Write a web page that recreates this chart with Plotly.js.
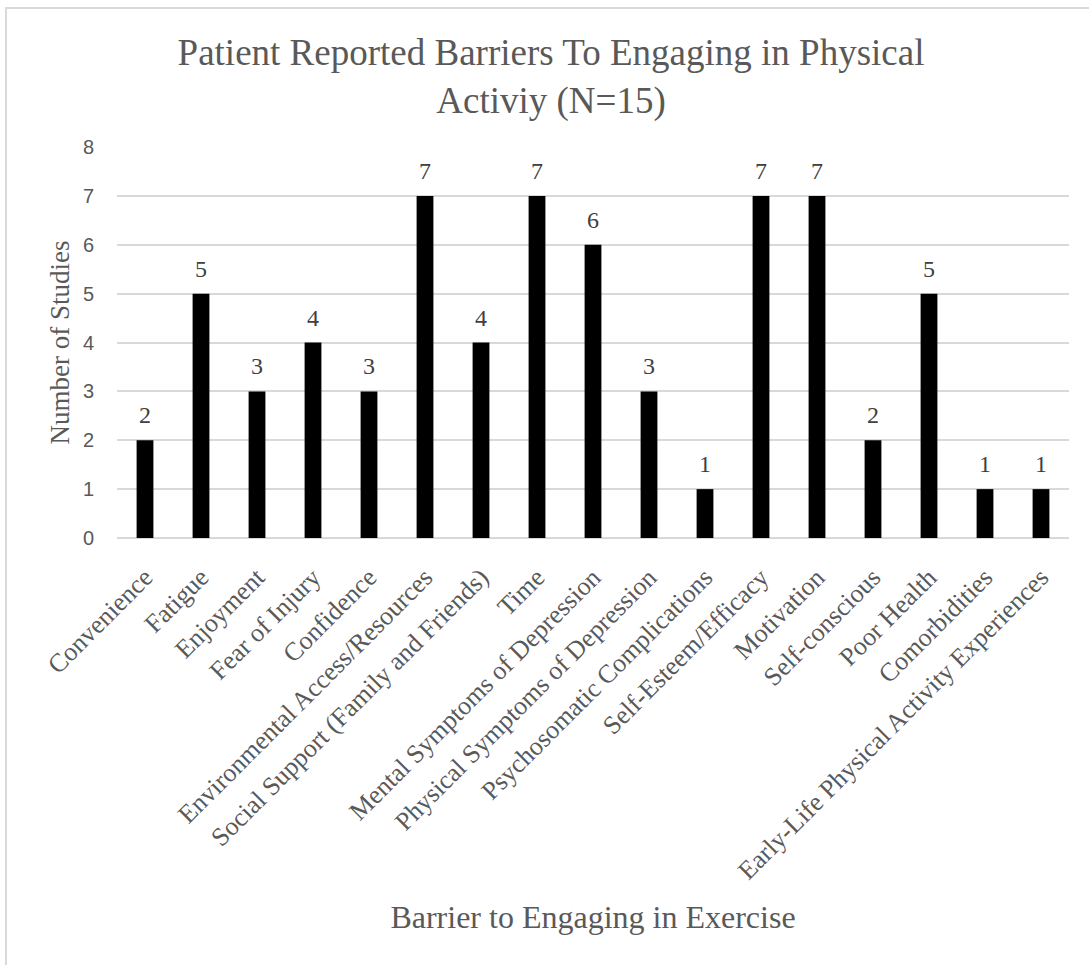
<!DOCTYPE html>
<html>
<head>
<meta charset="utf-8">
<script src="https://cdn.plot.ly/plotly-3.0.1.min.js"></script>
<style>
  html, body { margin: 0; padding: 0; background: #fff; }
  #wrap { position: relative; width: 1089px; height: 965px; overflow: hidden; }
  #chart { width: 1089px; height: 965px; }
  #frame { position: absolute; left: 5px; top: 7px; width: 1200px; height: 1100px;
           border-left: 2px solid #d9d9d9; border-top: 2px solid #d9d9d9; pointer-events: none; }
</style>
</head>
<body>
<div id="wrap">
  <div id="chart"></div>
  <div id="frame"></div>
</div>
<script>
const categories = [
  "Convenience", "Fatigue", "Enjoyment", "Fear of Injury", "Confidence",
  "Environmental Access/Resources", "Social Support (Family and Friends)", "Time",
  "Mental Symptoms of Depression", "Physical Symptoms of Depression",
  "Psychosomatic Complications", "Self-Esteem/Efficacy", "Motivation",
  "Self-conscious", "Poor Health", "Comorbidities",
  "Early-Life Physical Activity Experiences"
];
const studies = [2, 5, 3, 4, 3, 7, 4, 7, 6, 3, 1, 7, 7, 2, 5, 1, 1];
const yTicks = [0, 1, 2, 3, 4, 5, 6, 7, 8];

const serif = "Liberation Serif, Times New Roman, serif";
const sans = "Liberation Sans, Arial, sans-serif";
const grey = "#595959";

const trace = {
  type: "bar",
  x: categories,
  y: studies,
  marker: { color: "#000000" },
  hoverinfo: "x+y"
};

const labels = categories.map((c, i) => ({
  x: c, y: studies[i], xref: "x", yref: "y",
  text: String(studies[i]), showarrow: false,
  yanchor: "bottom", yshift: 10,
  font: { family: serif, size: 24, color: "#404040" }
}));

const layout = {
  width: 1089, height: 965,
  margin: { l: 117, r: 20, t: 147, b: 427 },
  paper_bgcolor: "#ffffff", plot_bgcolor: "#ffffff",
  bargap: 0.7,
  showlegend: false,
  font: { family: serif, color: grey },
  title: {
    text: "Patient Reported Barriers To Engaging in Physical<br>Activiy (N=15)",
    font: { family: serif, size: 37, color: grey },
    x: 0.506, xanchor: "center", xref: "container",
    y: 0.933, yanchor: "top"
  },
  xaxis: {
    type: "category",
    tickangle: -45,
    tickfont: { family: serif, size: 26, color: grey },
    ticks: "",
    ticklabelstandoff: 18,
    showgrid: false, showline: false, zeroline: false,
    title: { text: "Barrier to Engaging in Exercise", font: { family: serif, size: 32, color: grey }, standoff: 21 },
    automargin: false
  },
  yaxis: {
    range: [0, 8],
    tickvals: yTicks,
    ticktext: yTicks.map(String),
    tickfont: { family: sans, size: 20, color: grey },
    ticks: "",
    ticklabelstandoff: 22,
    showgrid: true, gridcolor: "#d9d9d9", gridwidth: 1.5,
    zeroline: true, zerolinecolor: "#d9d9d9", zerolinewidth: 1.5,
    showline: false,
    title: { text: "Number of Studies", font: { family: serif, size: 27, color: grey }, standoff: 5 },
    automargin: false
  },
  annotations: labels
};

Plotly.newPlot("chart", [trace], layout, { displayModeBar: false, responsive: false });
</script>
</body>
</html>
